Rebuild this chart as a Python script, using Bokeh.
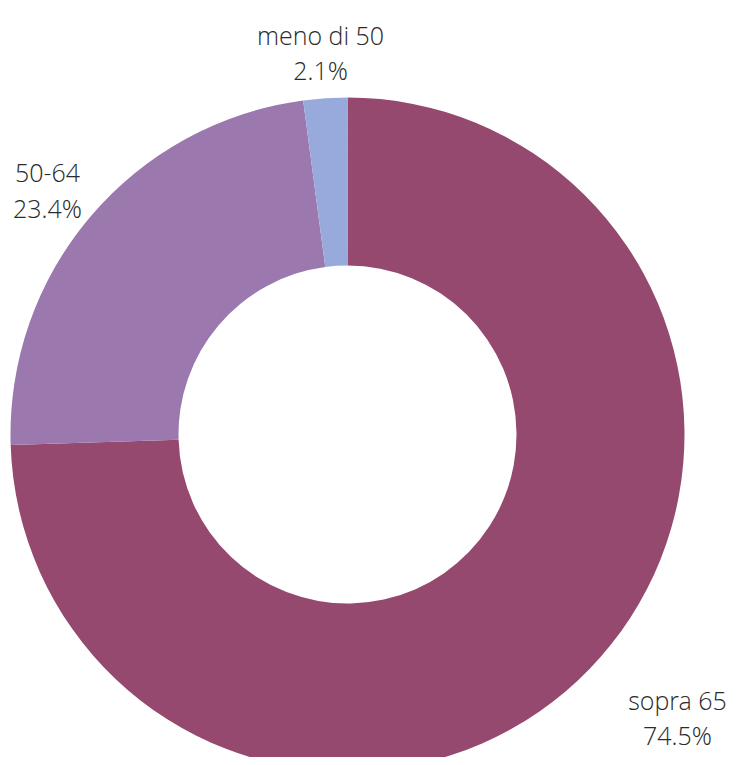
import math
from bokeh.plotting import figure
from bokeh.models import Range1d, ColumnDataSource
from bokeh.core.properties import value
from bokeh.embed import file_html
from bokeh.resources import INLINE

# Data (clockwise from 12 o'clock)
categories = ["sopra 65", "50-64", "meno di 50"]
shares = [74.5, 23.4, 2.1]
colors = ["#96496F", "#9B79AF", "#97AADB"]
pct_labels = ["74.5%", "23.4%", "2.1%"]

# Layout (pixel coordinates, y measured downward)
W, H = 730, 757
cx, cy = 347, 434
r_outer, r_inner = 337, 169
label_anchor_x = [677, 47, 320]
label_line1_y = [699, 172, 34]
line_gap = 35

p = figure(width=W, height=H, output_backend="svg", toolbar_location=None,
           x_range=Range1d(0, W), y_range=Range1d(-H, 0),
           min_border=0, outline_line_color=None, background_fill_color="white",
           border_fill_color="white")
p.axis.visible = False
p.grid.visible = False

total = sum(shares)
starts, ends = [], []
cum = 0.0
for s in shares:
    a0 = math.pi / 2 - 2 * math.pi * (cum + s) / total
    a1 = math.pi / 2 - 2 * math.pi * cum / total
    starts.append(a0)
    ends.append(a1)
    cum += s

src = ColumnDataSource(dict(x=[cx] * 3, y=[-cy] * 3, start=starts, end=ends,
                            color=colors, cat=categories))
p.annular_wedge(x="x", y="y", inner_radius=r_inner, outer_radius=r_outer,
                start_angle="start", end_angle="end", fill_color="color",
                line_color=None, source=src)

font = value("'Open Sans Light', 'Open Sans'")
for i in range(3):
    p.text(x=[label_anchor_x[i]], y=[-label_line1_y[i]], text=[categories[i]],
           text_align="center", text_baseline="alphabetic", text_font=font,
           text_font_size="25px", text_color="#2b2b2b")
    p.text(x=[label_anchor_x[i]], y=[-(label_line1_y[i] + line_gap)], text=[pct_labels[i]],
           text_align="center", text_baseline="alphabetic", text_font=font,
           text_font_size="25px", text_color="#2b2b2b")

open("out.html", "w").write(file_html(p, INLINE))
